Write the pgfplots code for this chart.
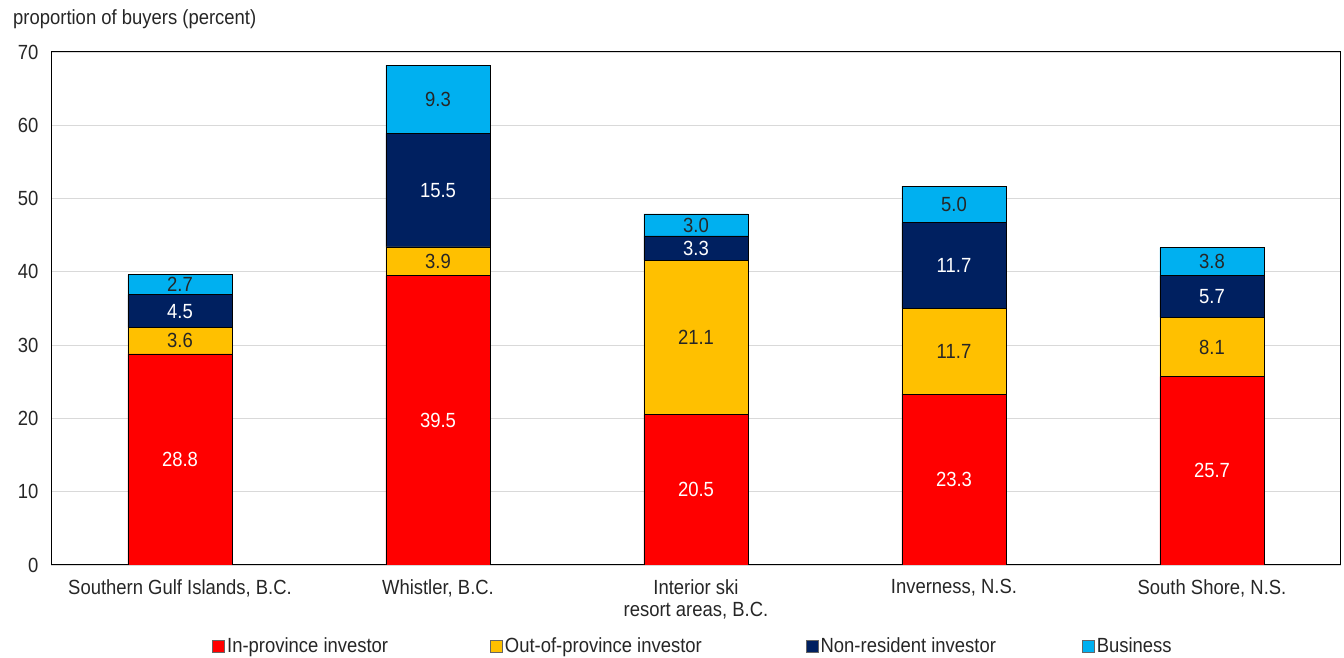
\documentclass[border=0pt]{standalone}
\usepackage{pgfplots}
\pgfplotsset{compat=1.18}
\usepackage{pgfplotstable}
\usepackage{fontspec}
\setmainfont[FakeStretch=0.9]{Liberation Sans}

\definecolor{inprov}{HTML}{FF0000}
\definecolor{outprov}{HTML}{FFC000}
\definecolor{nonres}{HTML}{002060}
\definecolor{business}{HTML}{00B0F0}
\definecolor{txt}{HTML}{262626}

% share of buyers by type (percent)
\pgfplotstableread{
x inprov outprov nonres business
0 28.8 3.6  4.5  2.7
1 39.5 3.9  15.5 9.3
2 20.5 21.1 3.3  3.0
3 23.3 11.7 11.7 5.0
4 25.7 8.1  5.7  3.8
}\buyers

% value labels, one per segment
\pgfplotsset{
  segment labels/.style={
    nodes near coords={\pgfmathprintnumber[fixed,fixed zerofill,precision=1]{\pgfplotspointmeta}},
    every node near coord/.append style={
      anchor=center, font=\fontsize{20.5}{23}\selectfont, text=#1},
  },
}

\begin{document}
\begin{tikzpicture}[x=1pt,y=1pt]
\useasboundingbox (0,0) rectangle (1344,658);
\node[anchor=west, text=txt, font=\fontsize{20.5}{23}\selectfont, inner sep=0pt] at (13,639) {proportion of buyers (percent)};
\begin{axis}[
  at={(51pt,93pt)}, anchor=south west,
  width=1290pt, height=513pt, scale only axis,
  ybar stacked, bar width=104pt,
  xmin=-0.5, xmax=4.5, ymin=0, ymax=70,
  ytick={0,10,...,70},
  xtick=data,
  xticklabels={{Southern Gulf Islands, B.C.},{Whistler, B.C.},{Interior ski\\resort areas, B.C.},{Inverness, N.S.},{South Shore, N.S.}},
  xticklabel style={align=center, yshift=-11pt},
  tick style={draw=none},
  ymajorgrids, grid style={draw=black!15, line width=0.9pt},
  axis line style={black, line width=1pt},
  tick label style={font=\fontsize{20.5}{22}\selectfont, text=txt},
  yticklabel style={xshift=-9pt},
  /pgf/number format/assume math mode=true,
  point meta=explicit,
  legend columns=4,
  legend style={at={(0.4977,-0.158)}, anchor=center, draw=none, fill=none,
    font=\fontsize{20.5}{23}\selectfont, text=txt,
    /tikz/column 2/.style={column sep=100pt},
    /tikz/column 4/.style={column sep=102pt},
    /tikz/column 6/.style={column sep=84pt}},
  legend cell align=left,
  legend image code/.code={\draw[#1, draw=black!60, line width=0.8pt] (0pt,-6pt) rectangle (12pt,6pt);},
]
\addplot[fill=inprov, draw=black, line width=0.8pt, segment labels=white]
  table[x=x, y=inprov, meta=inprov] {\buyers};
\addplot[fill=outprov, draw=black, line width=0.8pt, segment labels=txt]
  table[x=x, y=outprov, meta=outprov] {\buyers};
\addplot[fill=nonres, draw=black, line width=0.8pt, segment labels=white]
  table[x=x, y=nonres, meta=nonres] {\buyers};
\addplot[fill=business, draw=black, line width=0.8pt, segment labels=txt]
  table[x=x, y=business, meta=business] {\buyers};
\legend{In-province investor, Out-of-province investor, Non-resident investor, Business}
\end{axis}
\end{tikzpicture}
\end{document}
